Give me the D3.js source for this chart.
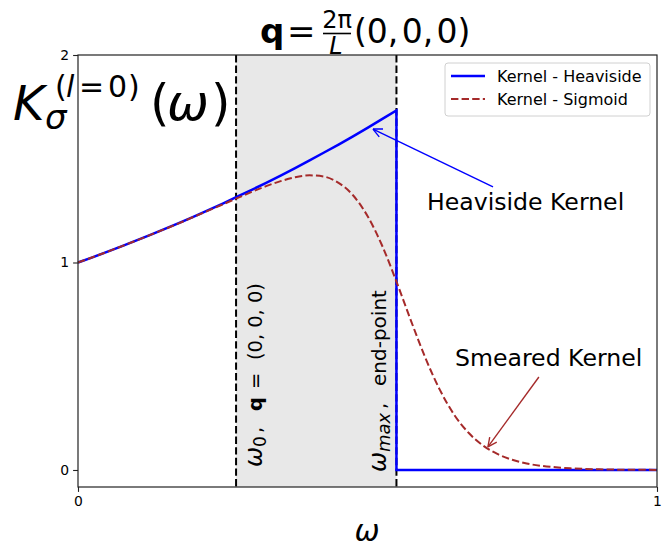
<!DOCTYPE html>
<html><head><meta charset="utf-8">
<script src="https://cdn.jsdelivr.net/npm/d3@7"></script>
<style>body{margin:0;background:#fff}svg{display:block}text{font-family:"DejaVu Sans",sans-serif}</style>
</head><body>
<script>
// ---- data ----
const omegaGrid = [0,0.025,0.05,0.075,0.1,0.125,0.15,0.175,0.2,0.225,0.25,0.275,0.3,0.325,0.35,0.375,0.4,0.425,0.45,0.475,0.5,0.525,0.55,0.575,0.6,0.625,0.65,0.675,0.7,0.725,0.75,0.775,0.8,0.825,0.85,0.875,0.9,0.925,0.95,0.975,1.0];
const sigmoidK = [1.000,1.025,1.051,1.078,1.105,1.133,1.161,1.190,1.220,1.250,1.280,1.310,1.340,1.368,1.392,1.411,1.420,1.414,1.384,1.324,1.224,1.083,0.908,0.720,0.540,0.386,0.265,0.178,0.117,0.076,0.049,0.031,0.020,0.013,0.008,0.005,0.003,0.002,0.001,0.001,0.000];
const heavisideOmega = [0,0.025,0.05,0.075,0.1,0.125,0.15,0.175,0.2,0.225,0.25,0.275,0.3,0.325,0.35,0.375,0.4,0.425,0.45,0.475,0.5,0.525,0.55,0.55,1.0];
const heavisideK = [1.000,1.025,1.051,1.078,1.105,1.133,1.162,1.191,1.221,1.252,1.284,1.317,1.350,1.384,1.419,1.455,1.492,1.530,1.568,1.608,1.649,1.691,1.733,0,0];
const omega0 = 0.273;
const omegaMax = 0.55;
const xTicks = [0, 1];
const yTicks = [0, 1, 2];
const legendLabels = ["Kernel - Heaviside", "Kernel - Sigmoid"];

const W = 662, H = 548;
const svg = d3.select("body").append("svg").attr("width", W).attr("height", H);
const x = d3.scaleLinear().domain([0, 1]).range([78, 657]);
const y = d3.scaleLinear().domain([-0.082, 2]).range([487, 55]);

// shaded region
svg.append("rect").attr("x", x(omega0)).attr("y", y(2)).attr("width", x(omegaMax) - x(omega0))
  .attr("height", y(-0.082) - y(2)).attr("fill", "#e8e8e8");

// vertical dashed lines
[omega0, omegaMax].forEach(v => {
  svg.append("line").attr("x1", x(v)).attr("x2", x(v)).attr("y1", y(2)).attr("y2", y(-0.082))
    .attr("stroke", "#000").attr("stroke-width", 2).attr("stroke-dasharray", "7.4,3.2");
});

const line = d3.line().x(d => x(d[0])).y(d => y(d[1]));
svg.append("path").datum(heavisideOmega.map((o, i) => [o, heavisideK[i]]))
  .attr("d", line).attr("fill", "none").attr("stroke", "#0000ff").attr("stroke-width", 2.5);
svg.append("path").datum(omegaGrid.map((o, i) => [o, sigmoidK[i]]))
  .attr("d", d3.line().curve(d3.curveMonotoneX).x(d => x(d[0])).y(d => y(d[1])))
  .attr("fill", "none").attr("stroke", "#a52a2a").attr("stroke-width", 2).attr("stroke-dasharray", "7.4,3.2");

// axes
const gx = svg.append("g").attr("transform", `translate(0,${y(-0.082)})`)
  .call(d3.axisBottom(x).tickValues(xTicks).tickFormat(d3.format("d")).tickSize(4.9).tickPadding(4));
const gy = svg.append("g").attr("transform", `translate(${x(0)},0)`)
  .call(d3.axisLeft(y).tickValues(yTicks).tickFormat(d3.format("d")).tickSize(4.9).tickPadding(4));
[gx, gy].forEach(g => {
  g.attr("font-size", null).attr("font-family", null);
  g.select(".domain").remove();
  g.selectAll("line").attr("stroke", "#222").attr("stroke-width", 1.1);
  g.selectAll("text").style("font-size", "13.9px").attr("fill", "#000").style("font-family", "DejaVu Sans");
});
// spines
svg.append("rect").attr("x", x(0)).attr("y", y(2)).attr("width", x(1) - x(0)).attr("height", y(-0.082) - y(2))
  .attr("fill", "none").attr("stroke", "#222").attr("stroke-width", 1.2);

// title
const t = svg.append("g");
t.append("text").attr("x", 260).attr("y", 43).attr("font-size", 34).attr("font-weight", "bold").text("q");
t.append("text").attr("x", 287).attr("y", 43).attr("font-size", 34).text("=");
t.append("text").attr("x", 337).attr("y", 28).attr("font-size", 24).attr("text-anchor", "middle").text("2π");
t.append("line").attr("x1", 323).attr("x2", 351).attr("y1", 33.5).attr("y2", 33.5).attr("stroke", "#000").attr("stroke-width", 1.6);
t.append("text").attr("x", 336).attr("y", 54).attr("font-size", 24).attr("font-style", "italic").attr("text-anchor", "middle").text("L");
t.append("text").attr("x", 354).attr("y", 43).attr("font-size", 33).text("(0,\u200A0,\u200A0)");

// y label
const yl = svg.append("g");
yl.append("text").attr("x", 13).attr("y", 120).attr("font-size", 48).attr("font-style", "italic").text("K");
yl.append("text").attr("x", 45).attr("y", 129).attr("font-size", 34).attr("font-style", "italic").text("σ");
yl.append("text").attr("x", 55).attr("y", 97).attr("font-size", 30).text("(");
yl.append("text").attr("x", 66).attr("y", 97).attr("font-size", 30).attr("font-style", "italic").text("l");
yl.append("text").attr("x", 79).attr("y", 97).attr("font-size", 30).text("=");
yl.append("text").attr("x", 108).attr("y", 97).attr("font-size", 30).text("0");
yl.append("text").attr("x", 128).attr("y", 97).attr("font-size", 30).text(")");
yl.append("text").attr("x", 150).attr("y", 120).attr("font-size", 50).text("(");
yl.append("text").attr("x", 167).attr("y", 120).attr("font-size", 50).attr("font-style", "italic").text("ω");
yl.append("text").attr("x", 211).attr("y", 120).attr("font-size", 50).text(")");

// x label
svg.append("text").attr("x", 367).attr("y", 541).attr("font-size", 30).attr("font-style", "italic")
  .attr("text-anchor", "middle").text("ω");

// rotated labels (pieces placed along the rotated baseline)
function rotLabel(bx, by, pieces) {
  const g = svg.append("g").attr("transform", `translate(${bx},${by}) rotate(-90)`);
  pieces.forEach(p => {
    g.append("text").attr("x", p.d).attr("y", p.dy || 0).attr("font-size", p.fs)
      .attr("font-style", p.it ? "italic" : null).attr("font-weight", p.b ? "bold" : null).text(p.s);
  });
}
rotLabel(262, 467, [
  {s: "ω", d: 0, fs: 24, it: true},
  {s: "0", d: 20, fs: 17, dy: 4},
  {s: ",", d: 34, fs: 19.4},
  {s: "q", d: 56, fs: 19.4, b: true},
  {s: "=", d: 78, fs: 19.4},
  {s: "(0, 0, 0)", d: 107, fs: 19.4}
]);
rotLabel(386, 472, [
  {s: "ω", d: 0, fs: 24, it: true},
  {s: "max", d: 20, fs: 18, it: true, dy: 4},
  {s: ",", d: 63, fs: 19.4},
  {s: "end-point", d: 86, fs: 20}
]);

// annotations
function arrow(x1, y1, x2, y2, color) {
  svg.append("line").attr("x1", x1).attr("y1", y1).attr("x2", x2).attr("y2", y2)
    .attr("stroke", color).attr("stroke-width", 1.4);
  const a = Math.atan2(y2 - y1, x2 - x1), L = 10, s = 0.45;
  [a + Math.PI - s, a + Math.PI + s].forEach(b => {
    svg.append("line").attr("x1", x2).attr("y1", y2)
      .attr("x2", x2 + L * Math.cos(b)).attr("y2", y2 + L * Math.sin(b))
      .attr("stroke", color).attr("stroke-width", 1.4);
  });
}
arrow(x(0.7168), y(1.364), x(0.5095), y(1.643), "#0000ff");
arrow(x(0.796), y(0.448), x(0.708), y(0.111), "#a52a2a");
svg.append("text").attr("x", 427).attr("y", 210).attr("font-size", 23.6).text("Heaviside Kernel");
svg.append("text").attr("x", 455).attr("y", 366).attr("font-size", 23.6).text("Smeared Kernel");

// legend
const lg = svg.append("g");
lg.append("rect").attr("x", 445).attr("y", 63).attr("width", 205).attr("height", 53).attr("rx", 3)
  .attr("fill", "#fff").attr("fill-opacity", 0.8).attr("stroke", "#d0d0d0").attr("stroke-width", 1);
lg.append("line").attr("x1", 451).attr("x2", 485).attr("y1", 76).attr("y2", 76).attr("stroke", "#0000ff").attr("stroke-width", 2.5);
lg.append("line").attr("x1", 451).attr("x2", 485).attr("y1", 99).attr("y2", 99).attr("stroke", "#a52a2a").attr("stroke-width", 2).attr("stroke-dasharray", "7.4,3.2");
lg.append("text").attr("x", 497).attr("y", 82).attr("font-size", 16).text(legendLabels[0]);
lg.append("text").attr("x", 497).attr("y", 105).attr("font-size", 16).text(legendLabels[1]);
</script>
</body></html>
